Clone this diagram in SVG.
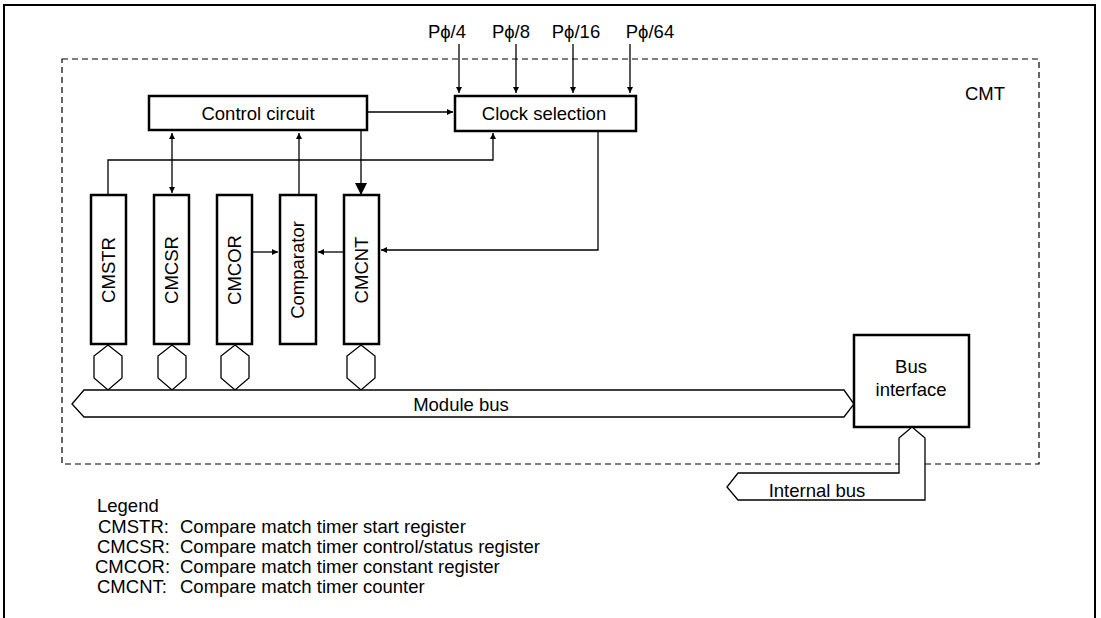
<svg xmlns="http://www.w3.org/2000/svg" width="1101" height="618" viewBox="0 0 1101 618">
<defs>
<marker id="a" viewBox="0 0 10 10" refX="10" refY="5" markerWidth="9" markerHeight="6" markerUnits="userSpaceOnUse" orient="auto-start-reverse"><path d="M0,0 L10,5 L0,10 z" fill="#000"/></marker>
<marker id="big" viewBox="0 0 10 10" refX="10" refY="5" markerWidth="13" markerHeight="12" markerUnits="userSpaceOnUse" orient="auto"><path d="M0,0 L10,5 L0,10 z" fill="#000"/></marker>
</defs>
<style>
text{font-family:"Liberation Sans",Arial,sans-serif;font-size:18.5px;fill:#000}
.box{fill:#fff;stroke:#000;stroke-width:2.5}
.ln{fill:none;stroke:#000;stroke-width:1.3}
.bus{fill:#fff;stroke:#000;stroke-width:1.3}
.c{text-anchor:middle}
</style>
<rect width="1101" height="618" fill="#fff"/>
<path d="M4,620 V5 H1095 V620" fill="none" stroke="#000" stroke-width="2"/>
<rect x="62" y="59" width="977" height="405" fill="none" stroke="#000" stroke-width="1.2" stroke-dasharray="6,4"/>
<text x="985" y="100" class="c">CMT</text>

<g id="connectors">
<line class="ln" x1="459" y1="44" x2="459" y2="93" marker-end="url(#a)"/>
<line class="ln" x1="516" y1="44" x2="516" y2="93" marker-end="url(#a)"/>
<line class="ln" x1="573" y1="44" x2="573" y2="93" marker-end="url(#a)"/>
<line class="ln" x1="630" y1="44" x2="630" y2="93" marker-end="url(#a)"/>
<line class="ln" x1="367" y1="112" x2="453" y2="112" marker-end="url(#a)"/>
<path class="ln" d="M108,195 V160 H493 V133" marker-end="url(#a)"/>
<line class="ln" x1="172" y1="133" x2="172" y2="193" marker-start="url(#a)" marker-end="url(#a)"/>
<line class="ln" x1="299" y1="195" x2="299" y2="133" marker-end="url(#a)"/>
<line class="ln" x1="361" y1="131" x2="361" y2="195" stroke-width="1.5" marker-end="url(#big)"/>
<path class="ln" d="M598,131 V250 H381" marker-end="url(#a)"/>
<line class="ln" x1="252" y1="252" x2="278" y2="252" marker-end="url(#a)"/>
<line class="ln" x1="344" y1="252" x2="318" y2="252" marker-end="url(#a)"/>
</g>

<g id="pclk"><text x="447" y="38" class="c">Pϕ/4</text><text x="511" y="38" class="c">Pϕ/8</text><text x="576" y="38" class="c">Pϕ/16</text><text x="650" y="38" class="c">Pϕ/64</text></g>

<g id="control"><rect class="box" x="149" y="96" width="218" height="34"/><text x="258" y="120" class="c">Control circuit</text></g>
<g id="clocksel"><rect class="box" x="455" y="96" width="181" height="35"/><text x="544" y="120" class="c">Clock selection</text></g>

<g id="cmstr"><rect class="box" x="91" y="195" width="35" height="149"/><text class="c" transform="translate(115,270) rotate(-90)">CMSTR</text></g>
<g id="cmcsr"><rect class="box" x="154" y="195" width="35" height="149"/><text class="c" transform="translate(178,270) rotate(-90)">CMCSR</text></g>
<g id="cmcor"><rect class="box" x="217" y="195" width="35" height="149"/><text class="c" transform="translate(241,270) rotate(-90)">CMCOR</text></g>
<g id="comparator"><rect class="box" x="280" y="195" width="36" height="149"/><text class="c" transform="translate(304,270) rotate(-90)">Comparator</text></g>
<g id="cmcnt"><rect class="box" x="344" y="195" width="35" height="149"/><text class="c" transform="translate(368,270) rotate(-90)">CMCNT</text></g>

<g id="hex">
<polygon class="bus" points="108,345 122,356 122,378 108,390 94,378 94,356"/>
<polygon class="bus" points="172,345 186,356 186,378 172,390 158,378 158,356"/>
<polygon class="bus" points="235,345 249,356 249,378 235,390 221,378 221,356"/>
<polygon class="bus" points="361,345 375,356 375,378 361,390 347,378 347,356"/>
</g>

<g id="modulebus"><polygon class="bus" points="72,404 84,390 844,390 854,404 844,417 84,417"/><text x="461" y="411" class="c">Module bus</text></g>

<g id="businterface"><rect class="box" x="854" y="335" width="115" height="92"/><text x="911" y="373" class="c">Bus</text><text x="911" y="396" class="c">interface</text></g>

<g id="internalbus"><polygon class="bus" points="912,427 925,438 925,500 738,500 727,487 738,473 899,473 899,438"/><text x="817" y="497" class="c">Internal bus</text></g>

<g id="legend">
<text x="97" y="512">Legend</text>
<text x="98" y="533">CMSTR:</text><text x="180" y="533">Compare match timer start register</text>
<text x="97" y="553">CMCSR:</text><text x="180" y="553">Compare match timer control/status register</text>
<text x="95" y="573">CMCOR:</text><text x="180" y="573">Compare match timer constant register</text>
<text x="97" y="593">CMCNT:</text><text x="180" y="593">Compare match timer counter</text>
</g>
</svg>
